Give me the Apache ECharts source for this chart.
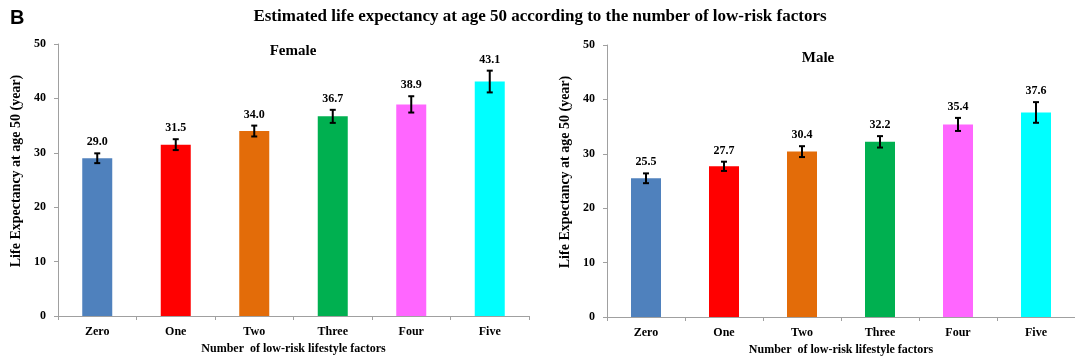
<!DOCTYPE html>
<html><head><meta charset="utf-8">
<script src="https://cdn.jsdelivr.net/npm/echarts@6/dist/echarts.min.js"></script>
<style>html,body{margin:0;padding:0;background:#fff}#c{width:1075px;height:363px}</style>
</head><body><div id="c"></div>
<script>
const categories = ['Zero','One','Two','Three','Four','Five'];
const femaleValues = [29.0, 31.5, 34.0, 36.7, 38.9, 43.1];
const femaleErrors = [0.9, 1.0, 1.0, 1.2, 1.5, 2.0];
const maleValues = [25.5, 27.7, 30.4, 32.2, 35.4, 37.6];
const maleErrors = [0.9, 0.85, 1.0, 1.05, 1.2, 1.9];
const barColors = ['#4F81BD','#FF0000','#E36C09','#00B050','#FF66FF','#00FFFF'];
const yTicks = [0, 10, 20, 30, 40, 50];

const SERIF = '"Liberation Serif","Times New Roman",serif';
const chart = echarts.init(document.getElementById('c'));

function xAxis(gi) {
  return {
    type: 'category', gridIndex: gi, data: categories,
    name: 'Number  of low-risk lifestyle factors', nameLocation: 'middle', nameGap: 25,
    nameTextStyle: {fontFamily: SERIF, fontWeight: 'bold', fontSize: 12, color: '#000'},
    axisLine: {lineStyle: {color: '#a0a0a0'}},
    axisTick: {show: true, length: 4, lineStyle: {color: '#a0a0a0'}},
    axisLabel: {fontFamily: SERIF, fontWeight: 'bold', fontSize: 12, color: '#000', margin: 10}
  };
}
function yAxis(gi) {
  return {
    type: 'value', gridIndex: gi, min: yTicks[0], max: yTicks[yTicks.length-1], interval: 10,
    name: 'Life Expectancy at age 50 (year)', nameLocation: 'middle', nameGap: 35, nameRotate: 90,
    nameTextStyle: {fontFamily: SERIF, fontWeight: 'bold', fontSize: 14, color: '#000', padding: [0, 0, 0, 18]},
    axisLine: {show: true, lineStyle: {color: '#a0a0a0'}},
    axisTick: {show: true, length: 4, lineStyle: {color: '#a0a0a0'}},
    splitLine: {show: false},
    axisLabel: {fontFamily: SERIF, fontWeight: 'bold', fontSize: 12, color: '#000', margin: 12}
  };
}
function barSeries(gi, vals) {
  return {
    type: 'bar', xAxisIndex: gi, yAxisIndex: gi, barWidth: 30,
    data: vals.map((v, i) => ({value: v, itemStyle: {color: barColors[i]}})),
    z: 2
  };
}
function errSeries(gi, vals, errs) {
  return {
    type: 'custom', xAxisIndex: gi, yAxisIndex: gi, z: 5,
    data: vals.map((v, i) => [i, v - errs[i], v + errs[i], v]),
    renderItem: function (params, api) {
      const x = api.coord([api.value(0), 0])[0];
      const lo = api.coord([api.value(0), api.value(1)])[1];
      const hi = api.coord([api.value(0), api.value(2)])[1];
      const hw = 3;
      const st = {stroke: '#000', lineWidth: 2};
      return {type: 'group', children: [
        {type: 'line', shape: {x1: x, y1: lo, x2: x, y2: hi}, style: st},
        {type: 'line', shape: {x1: x - hw, y1: lo, x2: x + hw, y2: lo}, style: st},
        {type: 'line', shape: {x1: x - hw, y1: hi, x2: x + hw, y2: hi}, style: st},
        {type: 'text', x: x, y: hi - 5, style: {
          text: api.value(3).toFixed(1), textAlign: 'center', textVerticalAlign: 'bottom',
          font: 'bold 12px ' + SERIF, fill: '#000'}}
      ]};
    }
  };
}

chart.setOption({
  animation: false,
  backgroundColor: '#fff',
  grid: [
    {left: 58, right: 546, top: 44, bottom: 47},
    {left: 607, right: 0, top: 45, bottom: 46}
  ],
  xAxis: [xAxis(0), xAxis(1)],
  yAxis: [yAxis(0), yAxis(1)],
  series: [
    barSeries(0, femaleValues), errSeries(0, femaleValues, femaleErrors),
    barSeries(1, maleValues), errSeries(1, maleValues, maleErrors)
  ],
  graphic: [
    {type: 'text', left: 10, top: 8, style: {text: 'B', font: 'bold 20px "Liberation Sans",Arial,sans-serif', fill: '#000'}},
    {type: 'text', x: 540, y: 17, style: {text: 'Estimated life expectancy at age 50 according to the number of low-risk factors', font: 'bold 17px ' + SERIF, fill: '#000', textAlign: 'center', textVerticalAlign: 'middle'}},
    {type: 'text', x: 293, y: 51, style: {text: 'Female', font: 'bold 15px ' + SERIF, fill: '#000', textAlign: 'center', textVerticalAlign: 'middle'}},
    {type: 'text', x: 818, y: 58, style: {text: 'Male', font: 'bold 15px ' + SERIF, fill: '#000', textAlign: 'center', textVerticalAlign: 'middle'}}
  ]
});
</script></body></html>
